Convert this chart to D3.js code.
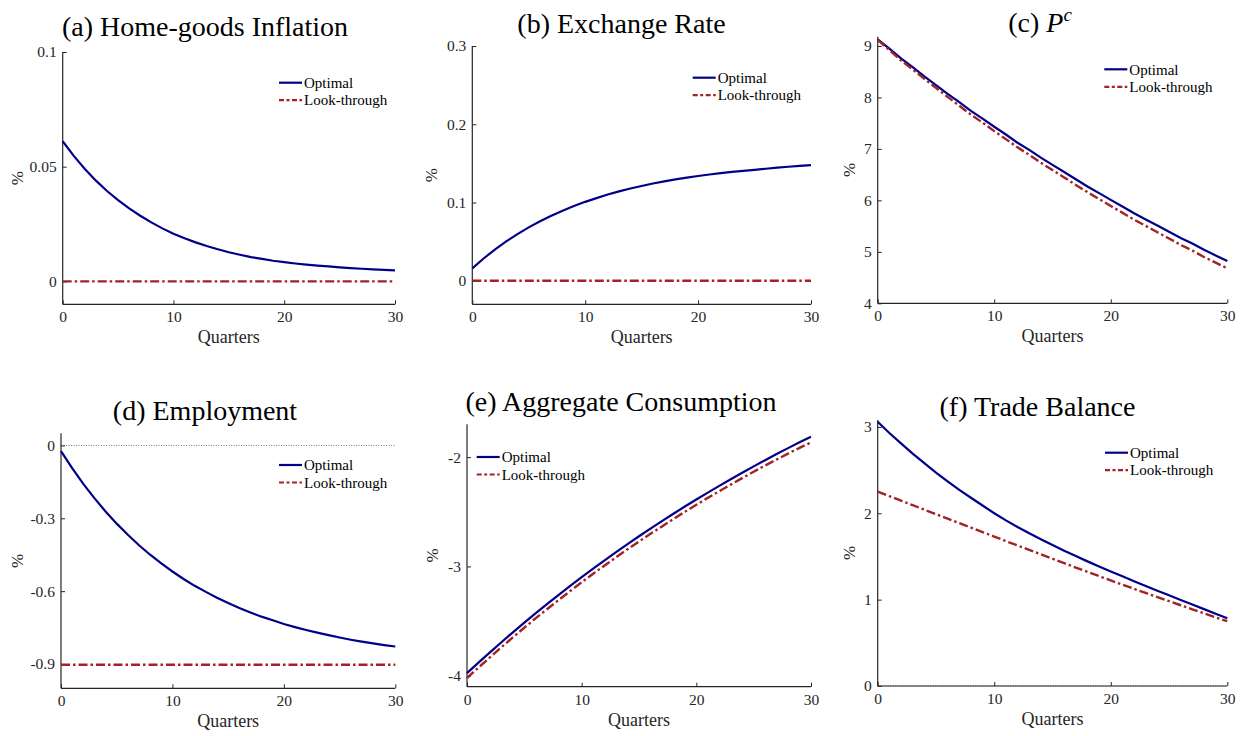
<!DOCTYPE html>
<html>
<head>
<meta charset="utf-8">
<script src="https://cdn.jsdelivr.net/npm/d3@7"></script>
<style>
  body { margin: 0; background: #fff; }
  svg { display: block; }
  text { font-family: "Liberation Serif", "Times New Roman", serif; fill: #262626; }
</style>
</head>
<body>
<div id="chart"></div>
<script>
const quarters = [0,1,2,3,4,5,6,7,8,9,10,11,12,13,14,15,16,17,18,19,20,21,22,23,24,25,26,27,28,29,30];

// (a) home-goods inflation
const inflOptimal = [0.0611,0.0547,0.0490,0.0439,0.0394,0.0354,0.0318,0.0286,0.0257,0.0231,0.0208,0.0188,0.0170,0.0154,0.0140,0.0127,0.0116,0.0106,0.0098,0.0090,0.0084,0.0078,0.0073,0.0069,0.0065,0.0061,0.0058,0.0055,0.0052,0.0050,0.0048];
const inflLook = [0,0,0,0,0,0,0,0,0,0,0,0,0,0,0,0,0,0,0,0,0,0,0,0,0,0,0,0,0,0,0];

// (b) exchange rate
const fxOptimal = [0.0160,0.0285,0.0399,0.0503,0.0597,0.0683,0.0761,0.0832,0.0896,0.0955,0.1009,0.1057,0.1102,0.1142,0.1179,0.1212,0.1243,0.1270,0.1295,0.1318,0.1339,0.1358,0.1375,0.1391,0.1405,0.1418,0.1432,0.1445,0.1457,0.1468,0.1478];
const fxLook = [0,0,0,0,0,0,0,0,0,0,0,0,0,0,0,0,0,0,0,0,0,0,0,0,0,0,0,0,0,0,0];

// (c) P^c
const pcOptimal = [9.13,8.95,8.76,8.59,8.41,8.24,8.07,7.91,7.74,7.59,7.43,7.28,7.12,6.98,6.83,6.69,6.55,6.41,6.27,6.14,6.01,5.88,5.75,5.63,5.51,5.39,5.27,5.16,5.04,4.93,4.82];
const pcLook = [9.12,8.92,8.72,8.545,8.36,8.185,8.01,7.84,7.665,7.51,7.345,7.19,7.03,6.885,6.73,6.59,6.445,6.30,6.16,6.025,5.89,5.76,5.625,5.505,5.38,5.26,5.135,5.025,4.90,4.79,4.68];

// (d) employment
const empOptimal = [-0.023,-0.093,-0.158,-0.217,-0.272,-0.322,-0.368,-0.411,-0.450,-0.486,-0.519,-0.550,-0.578,-0.603,-0.627,-0.649,-0.669,-0.688,-0.705,-0.720,-0.735,-0.748,-0.760,-0.771,-0.781,-0.791,-0.800,-0.808,-0.815,-0.822,-0.828];
const empLook = [-0.903,-0.903,-0.903,-0.903,-0.903,-0.903,-0.903,-0.903,-0.903,-0.903,-0.903,-0.903,-0.903,-0.903,-0.903,-0.903,-0.903,-0.903,-0.903,-0.903,-0.903,-0.903,-0.903,-0.903,-0.903,-0.903,-0.903,-0.903,-0.903,-0.903,-0.903];

// (e) aggregate consumption
const consOptimal = [-3.976,-3.880,-3.786,-3.693,-3.603,-3.514,-3.427,-3.343,-3.260,-3.178,-3.098,-3.020,-2.944,-2.869,-2.796,-2.724,-2.654,-2.586,-2.518,-2.452,-2.388,-2.325,-2.263,-2.203,-2.143,-2.085,-2.028,-1.972,-1.918,-1.865,-1.813];
const consLook = [-4.021,-3.925,-3.832,-3.739,-3.649,-3.560,-3.473,-3.389,-3.306,-3.225,-3.145,-3.067,-2.991,-2.916,-2.843,-2.772,-2.702,-2.634,-2.566,-2.500,-2.436,-2.373,-2.312,-2.252,-2.192,-2.134,-2.077,-2.022,-1.968,-1.915,-1.866];

// (f) trade balance
const tbOptimal = [3.06,2.93,2.81,2.69,2.58,2.47,2.37,2.27,2.18,2.09,2.00,1.918,1.841,1.768,1.699,1.632,1.567,1.504,1.443,1.384,1.327,1.270,1.214,1.159,1.104,1.050,0.996,0.943,0.890,0.837,0.785];
const tbLook = [2.25,2.198,2.146,2.094,2.042,1.990,1.938,1.886,1.834,1.782,1.730,1.678,1.627,1.576,1.525,1.474,1.423,1.372,1.322,1.272,1.222,1.173,1.125,1.077,1.029,0.982,0.935,0.888,0.841,0.795,0.750];

const xTicks = [0, 10, 20, 30];
const seriesNames = ["Optimal", "Look-through"];

const W = 1247, H = 736;
const blue = "#000089", red = "#a22325";

const svg = d3.select("#chart").append("svg")
  .attr("width", W)
  .attr("height", H);

// layout for each panel (pixel boxes)
const panels = [
  { title: "(a) Home-goods Inflation", tx: 205, ty: 36, x0: 62.7, x1: 395, top: 52, bottom: 304.3,
    dom: [-0.01, 0.1], ticks: [0, 0.05, 0.1], fmt: d => d === 0 ? "0" : String(d),
    opt: inflOptimal, look: inflLook, legX: 279, legY: 82.7, ylx: 18 },
  { title: "(b) Exchange Rate", tx: 621.5, ty: 33.3, x0: 472.3, x1: 811, top: 46, bottom: 304.3,
    dom: [-0.03, 0.3], ticks: [0, 0.1, 0.2, 0.3], fmt: d => d === 0 ? "0" : d.toFixed(1),
    opt: fxOptimal, look: fxLook, legX: 692.7, legY: 77.7, ylx: 432 },
  { title: null, tx: 1040, ty: 31.7, x0: 877.7, x1: 1227.3, top: 36.7, bottom: 303.3,
    dom: [4, 9.18], ticks: [4, 5, 6, 7, 8, 9], fmt: d => String(d),
    opt: pcOptimal, look: pcLook, legX: 1104.3, legY: 69.3, ylx: 850 },
  { title: "(d) Employment", tx: 205, ty: 420, x0: 61, x1: 395.3, top: 433.3, bottom: 688.3,
    dom: [-1, 0.05], ticks: [0, -0.3, -0.6, -0.9], fmt: d => d === 0 ? "0" : "-" + Math.abs(d).toFixed(1),
    opt: empOptimal, look: empLook, legX: 279, legY: 465, ylx: 18, zero: true },
  { title: "(e) Aggregate Consumption", tx: 621, ty: 410.7, x0: 467, x1: 811, top: 424.3, bottom: 686.7,
    dom: [-4.1, -1.7], ticks: [-4, -3, -2], fmt: d => "-" + Math.abs(d),
    opt: consOptimal, look: consLook, legX: 476.7, legY: 457, ylx: 433 },
  { title: "(f) Trade Balance", tx: 1037.5, ty: 416, x0: 877.7, x1: 1227.3, top: 420, bottom: 686,
    dom: [0, 3.08], ticks: [0, 1, 2, 3], fmt: d => String(d),
    opt: tbOptimal, look: tbLook, legX: 1105, legY: 452.7, ylx: 850, zero: true }
];

panels.forEach(p => {
  const g = svg.append("g");
  const x = d3.scaleLinear().domain([0, 30]).range([p.x0, p.x1]);
  const y = d3.scaleLinear().domain(p.dom).range([p.bottom, p.top]);

  // title
  if (p.title) {
    g.append("text")
      .attr("x", p.tx).attr("y", p.ty)
      .attr("text-anchor", "middle")
      .style("font-size", "28px")
      .style("fill", "#000")
      .text(p.title);
  } else {
    const t = g.append("text")
      .attr("x", p.tx).attr("y", p.ty)
      .attr("text-anchor", "middle")
      .style("font-size", "28px")
      .style("fill", "#000");
    t.append("tspan").text("(c) ");
    t.append("tspan").style("font-style", "italic").text("P");
    t.append("tspan").style("font-style", "italic").style("font-size", "19px")
      .attr("dy", -11).text("c");
  }

  // zero reference line
  if (p.zero) {
    g.append("line")
      .attr("x1", p.x0).attr("x2", p.x1)
      .attr("y1", y(0)).attr("y2", y(0))
      .attr("stroke", "#555")
      .attr("stroke-width", 0.8)
      .attr("stroke-dasharray", "1,1.5");
  }

  // axes
  const xAxis = d3.axisBottom(x).tickValues(xTicks).tickSize(-4).tickPadding(7).tickFormat(d3.format("d"));
  const yAxis = d3.axisLeft(y).tickValues(p.ticks).tickSize(-4).tickPadding(6).tickFormat(p.fmt);

  const gx = g.append("g").attr("transform", `translate(0,${p.bottom})`).call(xAxis);
  const gy = g.append("g").attr("transform", `translate(${p.x0},0)`).call(yAxis);

  [gx, gy].forEach(a => {
    a.select(".domain").remove();
    a.selectAll(".tick line").attr("stroke", "#262626").attr("stroke-width", 1);
    a.selectAll(".tick text").style("font-size", "15.5px").style("fill", "#262626")
      .attr("font-family", null);
  });
  gx.selectAll(".tick text").attr("dy", "0.71em");

  g.append("line")
    .attr("x1", p.x0).attr("x2", p.x1)
    .attr("y1", p.bottom).attr("y2", p.bottom)
    .attr("stroke", "#262626").attr("stroke-width", 1.2);
  g.append("line")
    .attr("x1", p.x0).attr("x2", p.x0)
    .attr("y1", p.top).attr("y2", p.bottom)
    .attr("stroke", "#262626").attr("stroke-width", 1.2);

  // axis labels
  g.append("text")
    .attr("x", (p.x0 + p.x1) / 2).attr("y", p.bottom + 39)
    .attr("text-anchor", "middle")
    .style("font-size", "18px")
    .text("Quarters");
  g.append("text")
    .attr("transform", `translate(${p.ylx + 5},${(p.top + p.bottom) / 2}) rotate(-90)`)
    .attr("text-anchor", "middle")
    .style("font-size", "17px")
    .text("%");

  // lines
  const line = vals => d3.line()
    .x((d, i) => x(quarters[i]))
    .y(d => y(d))(vals);

  g.append("path")
    .attr("d", line(p.opt))
    .attr("fill", "none")
    .attr("stroke", blue)
    .attr("stroke-width", 2.2);
  g.append("path")
    .attr("d", line(p.look))
    .attr("fill", "none")
    .attr("stroke", red)
    .attr("stroke-width", 2.4)
    .attr("stroke-dasharray", "9,3,2.5,3");

  // legend
  seriesNames.forEach((name, i) => {
    const ly = p.legY + i * 17.5;
    g.append("line")
      .attr("x1", p.legX).attr("x2", p.legX + 23)
      .attr("y1", ly).attr("y2", ly)
      .attr("stroke", i === 0 ? blue : red)
      .attr("stroke-width", 2.2)
      .attr("stroke-dasharray", i === 0 ? null : "5,2.5,3,2.5");
    g.append("text")
      .attr("x", p.legX + 25)
      .attr("y", ly)
      .attr("dy", "0.35em")
      .style("font-size", "15px")
      .style("fill", "#000")
      .text(name);
  });
});
</script>
</body>
</html>
